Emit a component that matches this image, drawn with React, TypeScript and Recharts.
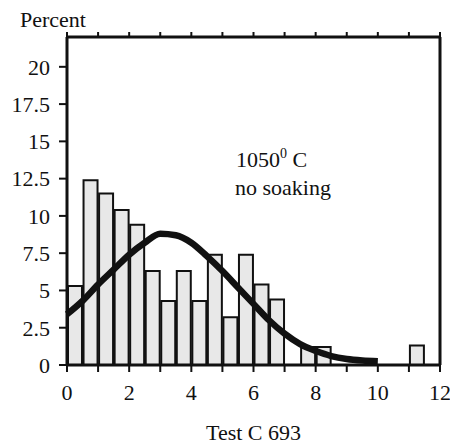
import { ComposedChart, Bar, Line, XAxis, YAxis } from "recharts";

// histogram bins (left edge, width 0.5) and their share in percent
const binStarts = [
  0, 0.5, 1, 1.5, 2, 2.5, 3, 3.5, 4, 4.5, 5, 5.5, 6, 6.5, 7, 7.5, 8, 8.5, 9,
  9.5, 10, 10.5, 11, 11.5,
];
const binPercents = [
  5.3, 12.4, 11.5, 10.4, 9.4, 6.3, 4.3, 6.3, 4.3, 7.4, 3.2, 7.4, 5.4, 4.4,
  null, 1.2, 1.2, null, null, null, null, null, 1.3, null,
];

// fitted curve
const curveX = [
  0, 0.5, 1, 1.5, 2, 2.5, 3, 3.5, 4, 4.5, 5, 5.5, 6, 6.5, 7, 7.5, 8, 8.5, 9,
  9.5, 10,
];
const curvePercent = [
  3.4, 4.3, 5.4, 6.4, 7.4, 8.2, 8.8, 8.7, 8.2, 7.3, 6.3, 5.2, 4.1, 3.0, 2.1,
  1.4, 0.95, 0.6, 0.4, 0.3, 0.25,
];

const xTicks = [0, 1, 2, 3, 4, 5, 6, 7, 8, 9, 10, 11, 12];
const yTicks = [0, 2.5, 5, 7.5, 10, 12.5, 15, 17.5, 20];

const bars = binStarts.map((s, i) => ({ x: s + 0.25, pct: binPercents[i] }));
const curve = curveX.map((x, i) => ({ x, fit: curvePercent[i] }));

const ink = "#111";
const font = "Liberation Serif, serif";
const axisLine = { stroke: ink, strokeWidth: 3 };
const tickLine = { stroke: ink, strokeWidth: 2 };
const tickText = { fill: ink, fontSize: 22, fontFamily: font };

export default function App() {
  const plotW = 440 - 67;
  return (
    <div
      style={{
        position: "absolute",
        left: 0,
        top: 0,
        background: "#fff",
        fontFamily: font,
      }}
    >
      <ComposedChart
        width={450}
        height={447}
        data={bars}
        margin={{ top: 36, right: 0, bottom: 0, left: 0 }}
      >
        <XAxis
          dataKey="x"
          type="number"
          domain={[0, 12]}
          ticks={xTicks}
          interval={0}
          height={82}
          tickSize={7}
          tickMargin={12}
          axisLine={axisLine}
          tickLine={tickLine}
          tick={tickText}
          tickFormatter={(v) => (v % 2 === 0 ? String(v) : "")}
          label={{
            value: "Test C 693",
            position: "insideBottom",
            offset: 7,
            ...tickText,
          }}
        />
        {/* top frame; the fitted curve is plotted against it */}
        <XAxis
          xAxisId="top"
          orientation="top"
          dataKey="x"
          type="number"
          domain={[0, 12]}
          ticks={xTicks}
          interval={0}
          height={1}
          tickSize={5}
          axisLine={axisLine}
          tickLine={tickLine}
          tickFormatter={() => ""}
        />
        <YAxis
          type="number"
          domain={[0, 22]}
          ticks={yTicks}
          interval={0}
          width={67}
          tickSize={8}
          tickMargin={9}
          axisLine={axisLine}
          tickLine={tickLine}
          tick={tickText}
        />
        <YAxis
          yAxisId="right"
          orientation="right"
          type="number"
          domain={[0, 22]}
          ticks={yTicks}
          interval={0}
          width={10}
          tickSize={5}
          axisLine={axisLine}
          tickLine={tickLine}
          tickFormatter={() => ""}
        />
        <Bar
          dataKey="pct"
          barSize={plotW / 24}
          fill="#e8e8e8"
          stroke={ink}
          strokeWidth={2}
          isAnimationActive={false}
        />
        <Line
          xAxisId="top"
          data={curve}
          dataKey="fit"
          type="monotone"
          stroke={ink}
          strokeWidth={6.5}
          dot={false}
          activeDot={false}
          isAnimationActive={false}
        />
        <text x={20} y={27} fontSize={22} fontFamily={font} fill={ink}>
          Percent
        </text>
        <text x={236} y={167} fontSize={22} fontFamily={font} fill={ink}>
          1050
          <tspan dy={-9} fontSize={14}>
            0
          </tspan>
          <tspan dy={9}> C</tspan>
        </text>
        <text x={235} y={195} fontSize={22} fontFamily={font} fill={ink}>
          no soaking
        </text>
      </ComposedChart>
    </div>
  );
}
